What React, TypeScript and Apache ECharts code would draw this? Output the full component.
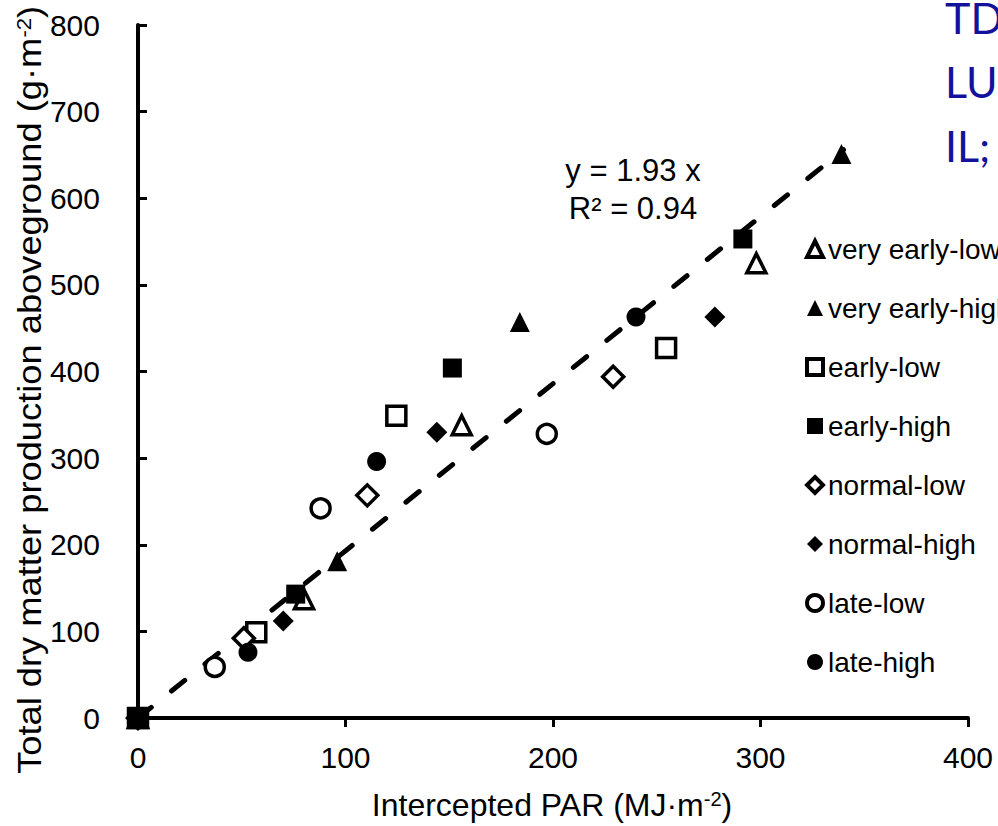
import React, { useEffect, useRef } from "react";
import * as echarts from "echarts";

// ---- data ----
const seriesNames = [
  "very early-low",
  "very early-high",
  "early-low",
  "early-high",
  "normal-low",
  "normal-high",
  "late-low",
  "late-high",
];

const veryEarlyLowX = [0, 80, 156, 298];
const veryEarlyLowY = [0, 137, 338, 525];
const veryEarlyHighX = [0, 96, 184, 339];
const veryEarlyHighY = [0, 181, 457, 651];
const earlyLowX = [0, 57, 124.5, 254.5];
const earlyLowY = [0, 99, 349, 427];
const earlyHighX = [0, 76, 151.5, 291.5];
const earlyHighY = [0, 143, 404, 553];
const normalLowX = [0, 51, 110.5, 229];
const normalLowY = [0, 92, 257, 394];
const normalHighX = [0, 70, 144, 278];
const normalHighY = [0, 112, 330, 463];
const lateLowX = [0, 37, 88, 197];
const lateLowY = [0, 59, 242, 328];
const lateHighX = [0, 53, 115, 240];
const lateHighY = [0, 76, 296, 463];

const trendX = [0, 340];
const trendY = [0, 656];

const xTicks = [0, 100, 200, 300, 400];
const yTicks = [0, 100, 200, 300, 400, 500, 600, 700, 800];

const equationLines = ["y = 1.93 x", "R² = 0.94"];
const cornerLines = ["TD", "LU", "IL;"];

const FONT = "Liberation Sans, Arial, sans-serif";

function pairs(xs: number[], ys: number[]) {
  return xs.map((x, i) => [x, ys[i]]);
}

export default function App() {
  const ref = useRef<HTMLDivElement>(null);

  useEffect(() => {
    if (!ref.current) return;
    const chart = echarts.init(ref.current, undefined, { renderer: "svg" });

    const open = { color: "#ffffff", borderColor: "#000000", borderWidth: 3.5, opacity: 1 };
    const filled = { color: "#000000", borderWidth: 0, opacity: 1 };

    const defs = [
      { name: seriesNames[0], x: veryEarlyLowX, y: veryEarlyLowY, symbol: "triangle", size: 19, style: open, isOpen: true },
      { name: seriesNames[1], x: veryEarlyHighX, y: veryEarlyHighY, symbol: "triangle", size: 20, style: filled, isOpen: false },
      { name: seriesNames[2], x: earlyLowX, y: earlyLowY, symbol: "rect", size: 19, style: open, isOpen: true },
      { name: seriesNames[3], x: earlyHighX, y: earlyHighY, symbol: "rect", size: 19, style: filled, isOpen: false, z: 4 },
      { name: seriesNames[4], x: normalLowX, y: normalLowY, symbol: "diamond", size: 21, style: open, isOpen: true },
      { name: seriesNames[5], x: normalHighX, y: normalHighY, symbol: "diamond", size: 21, style: filled, isOpen: false },
      { name: seriesNames[6], x: lateLowX, y: lateLowY, symbol: "circle", size: 19, style: open, isOpen: true },
      { name: seriesNames[7], x: lateHighX, y: lateHighY, symbol: "circle", size: 19, style: filled, isOpen: false },
    ];

    const scatterSeries = defs.map((d) => ({
      type: "scatter",
      name: d.name,
      data: pairs(d.x, d.y),
      symbol: d.symbol,
      symbolSize: d.size,
      itemStyle: d.style,
      z: (d as any).z ?? 3,
      silent: true,
    }));

    const legendData = defs.map((d) => ({
      name: d.name,
      icon: d.symbol,
      itemStyle: d.isOpen
        ? { color: "#ffffff", borderColor: "#000000", borderWidth: 4, opacity: 1 }
        : { color: "#000000", borderColor: "#000000", borderWidth: 0, opacity: 1 },
    }));

    const option: any = {
      animation: false,
      backgroundColor: "#ffffff",
      grid: { left: 138, right: 30, top: 25, bottom: 108, containLabel: false },
      xAxis: {
        type: "value",
        min: xTicks[0],
        max: xTicks[xTicks.length - 1],
        interval: 100,
        axisLine: { show: true, onZero: false, lineStyle: { color: "#000", width: 4 } },
        axisTick: { show: true, inside: false, length: 9, lineStyle: { color: "#000", width: 3 } },
        axisLabel: { color: "#000", fontSize: 30, fontFamily: FONT, margin: 24 },
        splitLine: { show: false },
      },
      yAxis: {
        type: "value",
        min: yTicks[0],
        max: yTicks[yTicks.length - 1],
        interval: 100,
        axisLine: { show: true, onZero: false, lineStyle: { color: "#000", width: 4 } },
        axisTick: { show: true, inside: true, length: 9, lineStyle: { color: "#000", width: 3 } },
        axisLabel: { color: "#000", fontSize: 30, fontFamily: FONT, margin: 38 },
        splitLine: { show: false },
      },
      legend: {
        orient: "vertical",
        left: 800,
        top: 229,
        itemGap: 29,
        itemWidth: 16,
        itemHeight: 16,
        data: legendData,
        selectedMode: false,
        textStyle: { color: "#000", fontSize: 28, fontFamily: FONT, lineHeight: 30 },
      },
      graphic: [
        {
          type: "text",
          x: 30,
          y: 390,
          rotation: Math.PI / 2,
          scaleX: 1.1,
          style: {
            text: "Total dry matter production aboveground (g·m{sup|-2})",
            fontSize: 33,
            fontFamily: FONT,
            fill: "#000",
            align: "center",
            verticalAlign: "middle",
            rich: { sup: { fontSize: 20, fontFamily: FONT, verticalAlign: "top", fill: "#000" } },
          },
        },
        {
          type: "text",
          x: 552,
          y: 805,
          style: {
            text: "Intercepted PAR (MJ·m{sup|-2})",
            fontSize: 32,
            fontFamily: FONT,
            fill: "#000",
            align: "center",
            verticalAlign: "middle",
            rich: { sup: { fontSize: 20, fontFamily: FONT, verticalAlign: "top", fill: "#000" } },
          },
        },
        ...equationLines.map((t, i) => ({
          type: "text",
          x: 633,
          y: 170 + i * 38,
          style: {
            text: t,
            fontSize: 31,
            fontFamily: FONT,
            fill: "#000",
            align: "center",
            verticalAlign: "middle",
          },
        })),
        ...cornerLines.map((t, i) => ({
          type: "text",
          x: 945,
          y: 17 + i * 64,
          style: {
            text: t,
            fontSize: 43,
            fontFamily: "Lato, Open Sans, sans-serif",
            fill: "#12129c",
            align: "left",
            verticalAlign: "middle",
          },
        })),
      ],
      series: [
        ...scatterSeries,
        {
          type: "line",
          name: "trend",
          data: pairs(trendX, trendY),
          symbol: "none",
          silent: true,
          z: 2,
          lineStyle: { color: "#000", width: 5, type: [17, 26], cap: "round" },
        },
      ],
    };

    chart.setOption(option);
    return () => chart.dispose();
  }, []);

  return (
    <div
      ref={ref}
      style={{ position: "absolute", left: 0, top: 0, width: 998, height: 826, background: "#fff" }}
    />
  );
}
